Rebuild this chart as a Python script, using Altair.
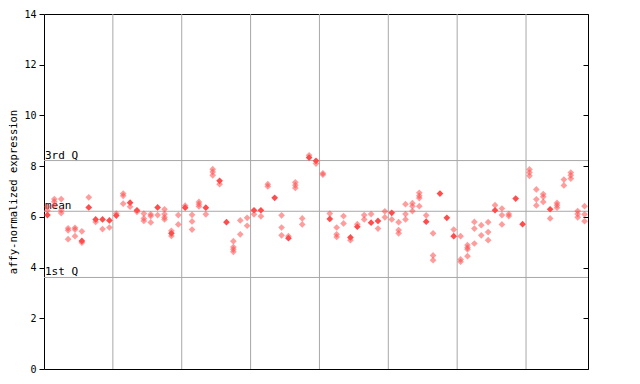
import altair as alt
import pandas as pd

# values per sample column (left to right)
col_values = [
    [6.40, 6.25, 6.07], [6.70, 6.60, 6.45], [6.70, 6.26, 6.15], [5.55, 5.47, 5.12],
    [5.57, 5.50, 5.24], [5.43, 5.05, 4.98], [6.77, 6.37], [5.90, 5.80],
    [5.90, 5.52], [5.86, 5.58], [6.13, 6.05], [6.92, 6.83, 6.52],
    [6.56, 6.40], [6.26, 6.20], [6.13, 5.94, 5.84], [6.10, 6.03, 5.78],
    [6.37, 6.07], [6.30, 6.11, 5.98, 5.90], [5.45, 5.35, 5.25], [6.07, 5.70],
    [6.44, 6.36], [6.08, 5.82, 5.50], [6.59, 6.50, 6.41], [6.36, 6.10],
    [7.88, 7.77, 7.64], [7.42, 7.29], [5.79], [5.04, 4.81, 4.72, 4.62],
    [5.86, 5.31], [5.96, 5.65], [6.26, 6.10], [6.26, 6.02],
    [7.29, 7.20], [6.75], [6.06, 5.58, 5.27], [5.24, 5.16],
    [7.36, 7.25, 7.14], [5.94, 5.70], [8.43, 8.34], [8.21, 8.10],
    [7.72, 7.66], [6.13, 5.92], [5.58, 5.31, 5.21], [6.03, 5.74],
    [5.19, 5.08], [5.71, 5.61], [6.07, 5.90], [6.11, 5.77],
    [5.84, 5.54], [6.22, 5.98], [6.16, 5.90], [5.79, 5.48, 5.35],
    [6.50, 6.11, 5.90], [6.54, 6.42, 6.23], [6.95, 6.83, 6.74, 6.42], [6.06, 5.81],
    [5.35, 4.48, 4.29], [6.92], [5.96], [5.50, 5.24],
    [5.24, 4.32, 4.23], [4.89, 4.79, 4.72, 4.45], [5.80, 5.54, 4.95], [5.67, 5.27],
    [5.79, 5.40, 5.08], [6.46, 6.26], [6.33, 6.07, 5.70], [6.11, 6.03],
    [6.72], [5.71], [7.87, 7.75, 7.62], [7.08, 6.69, 6.45],
    [6.90, 6.79, 6.59], [6.30, 5.94], [6.55, 6.46, 6.36], [7.47, 7.24],
    [7.75, 7.64, 7.51], [6.23, 6.11, 5.98], [6.42, 6.10, 5.83],
]
# index of the solid (overlapping) point in each column, -1 if none
solid_idx = [
    2, -1, -1, -1, -1, 1, 1, 0, 0, 0, 1, -1, 0, 0, -1, -1, 0, -1, 1, -1,
    1, -1, -1, 0, -1, 0, 0, -1, -1, -1, 0, 0, -1, 0, -1, 1, -1, -1, 1, 0,
    -1, 1, -1, -1, 0, 1, -1, 1, 0, -1, 0, -1, -1, -1, -1, 1, -1, 0, 0, 1,
    -1, -1, -1, -1, -1, 1, -1, -1, 0, 0, -1, -1, -1, 0, -1, -1, -1, -1, -1,
]
group_bounds = [10, 20, 30, 40, 50, 60, 70]
n_columns = 79
stat_labels = ["3rd Q", "mean", "1st Q"]
stat_values = [8.22, 6.22, 3.61]
y_ticks = [0, 2, 4, 6, 8, 10, 12, 14]

rows = []
for i, vals in enumerate(col_values):
    for j, v in enumerate(vals):
        rows.append({"x": i + 0.5, "y": v, "kind": "solid" if j == solid_idx[i] else "open"})
pts = pd.DataFrame(rows)
stats = pd.DataFrame({"label": stat_labels, "y": stat_values})
bounds = pd.DataFrame({"x": group_bounds})
ticks = pd.DataFrame({"y": y_ticks})

FONT = "DejaVu Sans Mono"
xs = alt.Scale(domain=[0, n_columns], nice=False, zero=False)
ys = alt.Scale(domain=[0, 14], nice=False)
GREY = "#a8a8a8"

vgrid = alt.Chart(bounds).mark_rule(color=GREY, strokeWidth=1).encode(
    x=alt.X("x:Q", scale=xs, axis=None)
)
hlines = alt.Chart(stats).mark_rule(color=GREY, strokeWidth=1).encode(
    y=alt.Y("y:Q", scale=ys,
            axis=alt.Axis(values=y_ticks, grid=False, domain=False, tickSize=5,
                          tickColor="black", labelPadding=3, labelFont=FONT,
                          labelFontSize=10, labelColor="black",
                          title="affy-normalized expression", titleFont=FONT,
                          titleFontSize=10.5, titleFontWeight="normal",
                          titleColor="black", titleX=-31, titleBaseline="middle"))
)
hlabels = alt.Chart(stats).mark_text(align="left", baseline="bottom", font=FONT,
                                     fontSize=11, color="black", dx=1, dy=0).encode(
    x=alt.value(0), y=alt.Y("y:Q", scale=ys), text="label:N"
)
points = alt.Chart(pts).mark_point(shape="diamond", filled=True, size=45,
                                   color="#ff4d4d", strokeWidth=0).encode(
    x=alt.X("x:Q", scale=xs, axis=None),
    y=alt.Y("y:Q", scale=ys),
    opacity=alt.Opacity("kind:N", scale=alt.Scale(domain=["open", "solid"], range=[0.55, 1.0]),
                        legend=None),
)
right_ticks = alt.Chart(ticks).mark_point(opacity=0).encode(
    y=alt.Y("y:Q", scale=ys,
            axis=alt.Axis(orient="right", values=y_ticks, labels=False, domain=False,
                          grid=False, tickSize=5, tickColor="black", offset=-5, title=None))
)

left = alt.layer(vgrid, hlines, hlabels, points)
chart = alt.layer(left, right_ticks).resolve_axis(y="independent").properties(
    width=544, height=355,
    autosize=alt.AutoSizeParams(type="none"),
    padding={"left": 36, "top": 6, "right": 10, "bottom": 8},
).configure_view(stroke="black", strokeWidth=1)

chart.save("out.html", embed_options={"renderer": "svg", "actions": False})
